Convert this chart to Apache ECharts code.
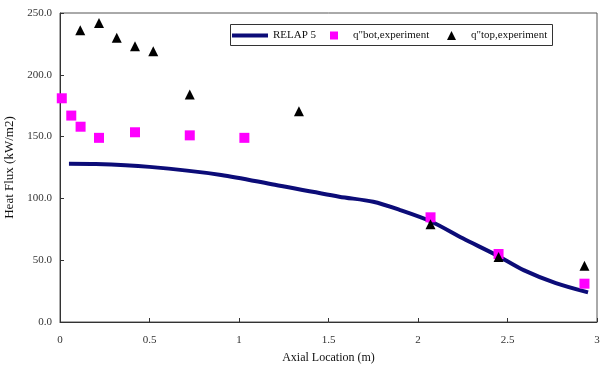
<!DOCTYPE html>
<html><head><meta charset="utf-8">
<script src="https://cdn.jsdelivr.net/npm/echarts@6/dist/echarts.min.js"></script>
<style>html,body{margin:0;padding:0;background:#fff}#c{width:600px;height:373px}</style>
</head><body><div id="c"></div>
<script>
// RELAP 5 calculation curve [axial location m, heat flux kW/m2]
const relapX = [0.05, 0.2, 0.5, 0.9, 1.2, 1.56, 1.75, 1.9, 2.07, 2.25, 2.44, 2.59, 2.77, 2.95];
const relapY = [128, 127.8, 125.5, 119, 111, 101.4, 97.3, 90.6, 81.5, 67.7, 54, 42, 31.5, 24];
// bottom experiment
const botX = [0.01, 0.063, 0.115, 0.218, 0.419, 0.725, 1.03, 2.07, 2.45, 2.93];
const botY = [181, 167, 158, 149, 153.5, 151, 149, 84.7, 55, 31];
// top experiment
const topX = [0.113, 0.218, 0.317, 0.419, 0.521, 0.725, 1.335, 2.07, 2.45, 2.93];
const topY = [236, 242, 230, 223, 219, 184, 170.5, 79, 52.5, 45.5];
const seriesNames = ['RELAP 5', 'q"bot,experiment', 'q"top,experiment'];

const zip = (a, b) => a.map((v, i) => [v, b[i]]);
const font = 'Liberation Serif';
const chart = echarts.init(document.getElementById('c'));
const legendText = {fontFamily: font, fontSize: 11, color: '#111'};
chart.setOption({
  animation: false,
  textStyle: {fontFamily: font},
  grid: {left: 60, right: 3, top: 13, bottom: 51, show: true, borderColor: '#555', borderWidth: 1,
    outerBoundsMode: 'none', containLabel: false},
  graphic: [{type: 'rect', left: 230, top: 24, shape: {width: 322, height: 21},
    style: {fill: '#fff', stroke: '#333', lineWidth: 1}, z: 10}],
  legend: [
    {data: [{name: seriesNames[0], icon: 'rect'}], left: 232, top: 30, itemWidth: 36, itemHeight: 4, padding: 0,
      textStyle: Object.assign({padding: [2, 0, 0, 0]}, legendText), z: 11},
    {data: [seriesNames[1]], left: 330, top: 30, itemWidth: 8, itemHeight: 8, padding: 0,
      textStyle: Object.assign({padding: [2, 0, 0, 10]}, legendText), z: 11},
    {data: [seriesNames[2]], left: 447, top: 30, itemWidth: 9, itemHeight: 9, padding: 0,
      textStyle: Object.assign({padding: [2, 0, 0, 10]}, legendText), z: 11}
  ],
  xAxis: {type: 'value', min: 0, max: 3, interval: 0.5,
    name: 'Axial Location (m)', nameLocation: 'middle', nameGap: 30,
    nameTextStyle: {fontFamily: font, fontSize: 12, color: '#111'},
    axisLine: {lineStyle: {color: '#333', width: 1}},
    axisTick: {inside: true, length: 4, lineStyle: {color: '#333'}},
    axisLabel: {fontFamily: font, fontSize: 11, color: '#333', margin: 13},
    splitLine: {show: false}},
  yAxis: {type: 'value', min: 0, max: 250, interval: 50,
    name: 'Heat Flux (kW/m2)', nameLocation: 'middle', nameGap: 37, nameRotate: 90,
    nameTextStyle: {fontFamily: font, fontSize: 13, color: '#111'},
    axisLine: {show: true, lineStyle: {color: '#333', width: 1}},
    axisTick: {show: true, inside: true, length: 4, lineStyle: {color: '#333'}},
    axisLabel: {fontFamily: font, fontSize: 11, color: '#333', margin: 8, formatter: v => v.toFixed(1)},
    splitLine: {show: false}},
  series: [
    {name: seriesNames[0], type: 'line', data: zip(relapX, relapY), smooth: 0.3,
      showSymbol: false, symbol: 'none', lineStyle: {color: '#0c0c78', width: 4}, itemStyle: {color: '#0c0c78'}, z: 2},
    {name: seriesNames[1], type: 'scatter', data: zip(botX, botY), symbol: 'rect', symbolSize: 10,
      itemStyle: {color: '#ff00ff', opacity: 1}, z: 3},
    {name: seriesNames[2], type: 'scatter', data: zip(topX, topY), symbol: 'triangle', symbolSize: 10,
      itemStyle: {color: '#000', opacity: 1}, z: 4}
  ]
});
</script></body></html>
